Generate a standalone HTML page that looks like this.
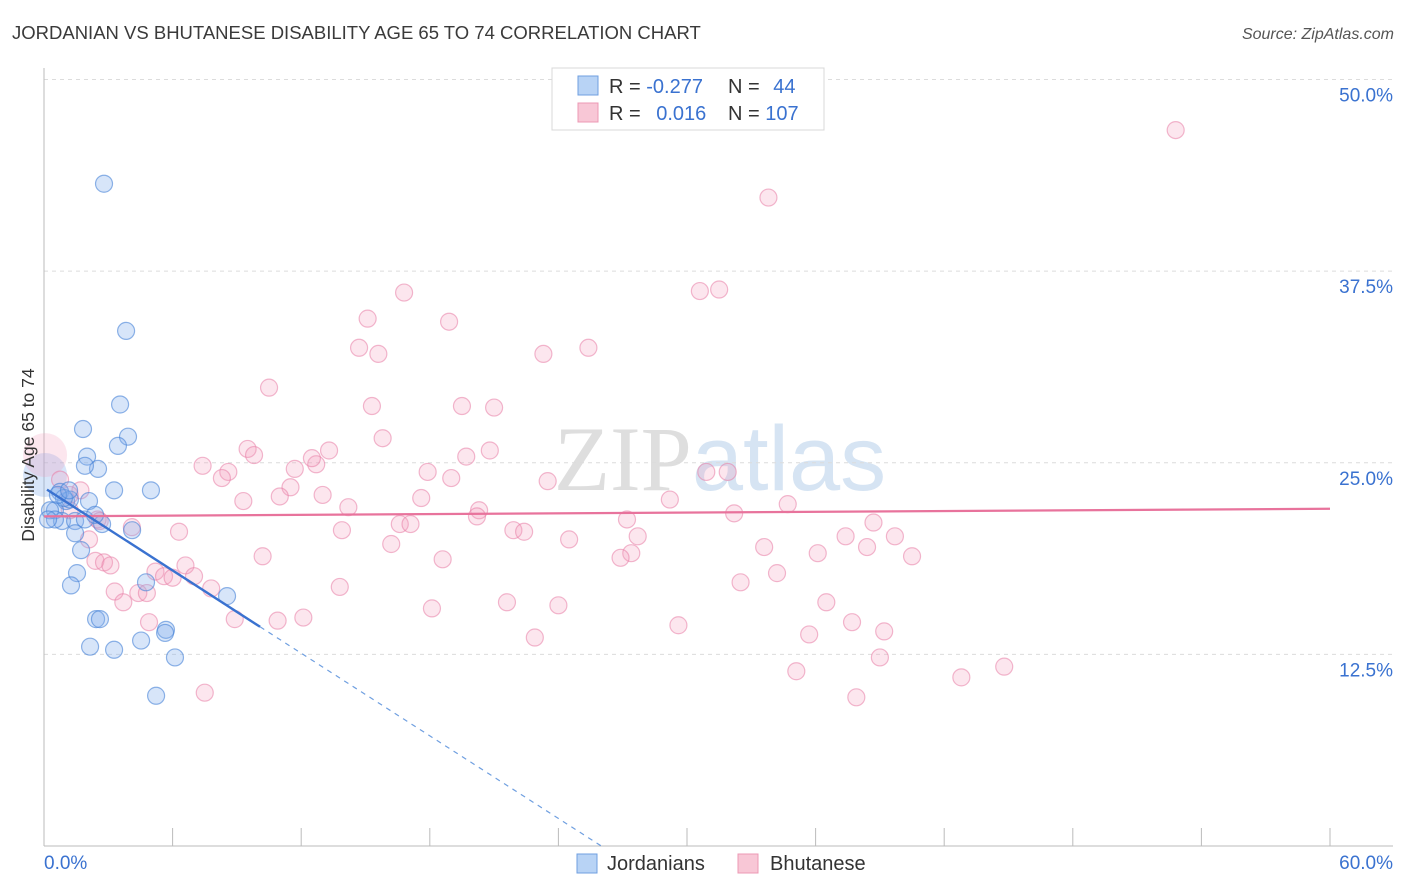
<!DOCTYPE html>
<html><head><meta charset="utf-8"><style>
body{margin:0;background:#fff;font-family:"Liberation Sans",sans-serif}
svg{display:block}
</style></head><body>
<svg id="c" width="1406" height="892" xmlns="http://www.w3.org/2000/svg">
<text x="12" y="39" font-size="18.5" fill="#3a3a3a">JORDANIAN VS BHUTANESE DISABILITY AGE 65 TO 74 CORRELATION CHART</text>
<text x="1394" y="39" font-size="16" fill="#555" font-style="italic" text-anchor="end">Source: ZipAtlas.com</text>
<text x="720" y="490" font-size="92" fill="#e6e6e6" text-anchor="middle" font-family="Liberation Serif,serif"><tspan fill="#dedede">ZIP</tspan><tspan fill="#d6e4f3" font-family="Liberation Sans,sans-serif">atlas</tspan></text>
<g id="grid"></g>
<g id="axes"></g>
<g id="pts"></g>
<g id="lines"></g>
<text transform="translate(34,455) rotate(-90)" font-size="17.5" fill="#333" text-anchor="middle">Disability Age 65 to 74</text>
<g>
<rect x="552" y="68" width="272" height="62" fill="#fff" stroke="#d8d8d8"/>
<rect x="578" y="76" width="20" height="19" fill="#b8d3f5" stroke="#6f9fe0"/>
<rect x="578" y="103" width="20" height="19" fill="#f8c7d6" stroke="#ec98b4"/>
<text x="609" y="93" font-size="20" fill="#333">R = <tspan fill="#3a72d0">-0.277</tspan></text>
<text x="728" y="93" font-size="20" fill="#333">N = <tspan fill="#3a72d0" dx="8">44</tspan></text>
<text x="609" y="120" font-size="20" fill="#333">R = <tspan fill="#3a72d0" dx="10">0.016</tspan></text>
<text x="728" y="120" font-size="20" fill="#333">N = <tspan fill="#3a72d0">107</tspan></text>
</g>
<g>
<rect x="577" y="854" width="20" height="19" fill="#b8d3f5" stroke="#6f9fe0"/>
<text x="607" y="870" font-size="20" fill="#333">Jordanians</text>
<rect x="738" y="854" width="20" height="19" fill="#f8c7d6" stroke="#ec98b4"/>
<text x="770" y="870" font-size="20" fill="#333">Bhutanese</text>
</g>
</svg>
<script>
const yTicks=[12.5,25,37.5,50];
const yTickLabels=["12.5%","25.0%","37.5%","50.0%"];
const xTickVals=[0,6,12,18,24,30,36,42,48,54,60];
const xTickLabels=["0.0%","60.0%"];
const jorX=[2.80,3.83,3.55,1.82,3.92,3.45,2.01,2.52,1.91,3.27,4.99,2.10,1.03,0.51,0.84,1.45,2.71,4.11,1.45,1.73,1.54,1.26,4.76,2.43,2.61,5.69,5.65,8.54,4.53,2.15,3.27,6.11,5.23,0.75,0.28,0.51,1.21,0.93,0.65,1.91,0.19,2.38,1.17];
const jorY=[43.2,33.6,28.8,27.2,26.7,26.1,25.4,24.6,24.8,23.2,23.2,22.5,22.5,21.9,21.2,21.2,21.0,20.6,20.4,19.3,17.8,17.0,17.2,14.8,14.8,14.1,13.9,16.3,13.4,13.0,12.8,12.3,9.8,23.1,21.9,21.3,22.6,22.7,22.9,21.3,21.3,21.6,23.2];
const bhuX=[52.8,33.8,16.8,30.6,31.5,15.1,18.9,14.7,15.6,23.3,25.4,10.5,15.3,19.5,21.0,15.8,9.5,9.8,13.3,20.8,19.7,7.4,11.7,12.7,12.5,8.6,8.3,17.9,19.0,23.5,30.9,31.9,11.5,13.0,9.3,11.0,14.2,17.6,29.2,34.7,20.3,20.2,32.2,27.2,38.7,16.6,17.1,13.9,21.9,22.4,4.1,6.3,27.7,37.4,39.7,24.5,16.2,33.6,38.4,10.2,18.6,27.4,26.9,36.1,40.5,2.4,2.8,3.1,6.6,5.2,5.6,6.0,7.0,34.2,32.5,13.8,7.8,3.3,4.4,4.8,3.7,18.1,21.6,24.0,36.5,12.1,10.9,8.9,4.9,29.6,37.7,22.9,35.7,39.2,39.0,44.8,35.1,42.8,37.9,7.5,2.1,1.7,1.2,2.5,1.2,0.75,2.6];
const bhuY=[46.7,42.3,36.1,36.2,36.3,34.4,34.2,32.5,32.1,32.1,32.5,29.9,28.7,28.7,28.6,26.6,25.9,25.5,25.8,25.8,25.4,24.8,24.6,24.9,25.3,24.4,24.0,24.4,24.0,23.8,24.4,24.4,23.4,22.9,22.5,22.8,22.1,22.7,22.6,22.3,21.9,21.5,21.7,21.3,21.1,21.0,21.0,20.6,20.6,20.5,20.8,20.5,20.2,20.2,20.2,20.0,19.7,19.5,19.5,18.9,18.7,19.1,18.8,19.1,18.9,18.6,18.5,18.3,18.3,17.9,17.6,17.5,17.6,17.8,17.2,16.9,16.8,16.6,16.5,16.5,15.9,15.5,15.9,15.7,15.9,14.9,14.7,14.8,14.6,14.4,14.6,13.6,13.8,14.0,12.3,11.7,11.4,11.0,9.7,10.0,20.0,23.2,22.9,21.3,21.9,23.9,21.2];
const bigPts=[{s:"j",x:0.05,y:24.2},{s:"b",x:0.05,y:25.5}];
const jorTrend=[[0.14,23.25],[10.08,14.3]];
const jorTrendExt=[10.08,26.0];
const bhuTrend=[[0,21.5],[60,22.0]];

const NS="http://www.w3.org/2000/svg";
const X0=44,X1=1330,Y0=846,YPER=15.33;
function sx(v){return X0+(v/60)*(X1-X0);}
function sy(v){return Y0-v*YPER;}
function mk(t,a,p){const e=document.createElementNS(NS,t);for(const k in a)e.setAttribute(k,a[k]);p.appendChild(e);return e;}
const grid=document.getElementById('grid'),axes=document.getElementById('axes'),pts=document.getElementById('pts'),lines=document.getElementById('lines');
yTicks.forEach((v,i)=>{
  const l=mk('line',{x1:X0,x2:1393,y1:sy(v),y2:sy(v),stroke:'#dcdcdc','stroke-dasharray':'4,4'},grid);
  
  
  const t=mk('text',{x:1393,y:sy(v)+22,'font-size':19,fill:'#3a72d0','text-anchor':'end'},grid);
  t.textContent=yTickLabels[i];
  
  
});
const ya=mk('line',{x1:X0,x2:X0,y1:68,y2:Y0,stroke:'#bbb'},axes);


const xa=mk('line',{x1:X0,x2:1393,y1:Y0,y2:Y0,stroke:'#bbb'},axes);


xTickVals.forEach(v=>{
  const t=mk('line',{x1:sx(v),x2:sx(v),y1:Y0-18,y2:Y0,stroke:'#bbb'},axes);
  
  
});
const xl0=mk('text',{x:X0,y:869,'font-size':19,fill:'#3a72d0'},axes);xl0.textContent=xTickLabels[0];


const xl1=mk('text',{x:1393,y:869,'font-size':19,fill:'#3a72d0','text-anchor':'end'},axes);xl1.textContent=xTickLabels[1];


const blueS={fill:'rgba(130,175,235,0.32)',stroke:'rgba(70,130,215,0.6)'};
const pinkS={fill:'rgba(245,160,190,0.26)',stroke:'rgba(232,125,165,0.55)'};
bigPts.forEach(p=>{
  const s=p.s==='j'?blueS:pinkS;
  const c=mk('circle',{cx:sx(p.x),cy:sy(p.y),r:22,fill:s.fill,stroke:'none'},pts);
  
  
});
bhuX.forEach((x,i)=>{
  const c=mk('circle',{cx:sx(x),cy:sy(bhuY[i]),r:8.5,fill:pinkS.fill,stroke:pinkS.stroke,'stroke-width':1.2},pts);
  
  
});
jorX.forEach((x,i)=>{
  const c=mk('circle',{cx:sx(x),cy:sy(jorY[i]),r:8.5,fill:blueS.fill,stroke:blueS.stroke,'stroke-width':1.2},pts);
  
  
});
const bl=mk('line',{x1:sx(bhuTrend[0][0]),y1:sy(bhuTrend[0][1]),x2:sx(bhuTrend[1][0]),y2:sy(bhuTrend[1][1]),stroke:'#e8739c','stroke-width':2.2},lines);


const slope=(jorTrend[1][1]-jorTrend[0][1])/(jorTrend[1][0]-jorTrend[0][0]);
const jl=mk('line',{x1:sx(jorTrend[0][0]),y1:sy(jorTrend[0][1]),x2:sx(jorTrend[1][0]),y2:sy(jorTrend[1][1]),stroke:'#3a72d0','stroke-width':2.4},lines);


const ey=jorTrend[1][1]+slope*(jorTrendExt[1]-jorTrendExt[0]);
const jd=mk('line',{x1:sx(jorTrend[1][0]),y1:sy(jorTrend[1][1]),x2:sx(jorTrendExt[1]),y2:sy(Math.max(ey,0)),stroke:'#6f9fe0','stroke-width':1.2,'stroke-dasharray':'5,5'},lines);


</script>
</body></html>
